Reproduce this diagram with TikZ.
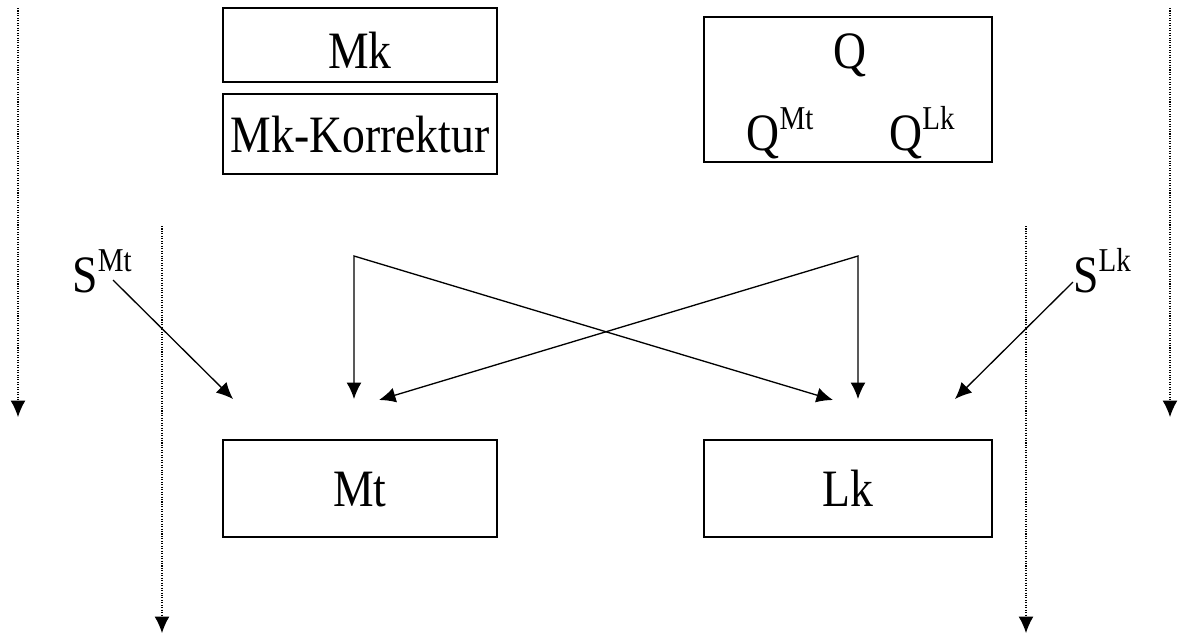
\documentclass[tikz,border=0pt]{standalone}
\usepackage{fontspec}
\setmainfont{Liberation Serif}
\usetikzlibrary{positioning, calc, arrows.meta}
\newcommand{\tall}[1]{\scalebox{1}[1.15]{#1}}
\newcommand{\hi}[1]{\raisebox{10pt}{\fontsize{16.5}{18}\selectfont #1}}
\tikzstyle{box}=[draw, line width=0.7pt, inner sep=0pt, font=\fontsize{26}{30}\selectfont, text height=0.92cm, text depth=0.2cm]
\tikzstyle{txt}=[inner sep=0pt, anchor=base, font=\fontsize{26}{30}\selectfont]
\tikzstyle{arrow}=[-{Latex[length=3.3mm, width=3mm]}, line width=0.75pt]
\tikzstyle{twoway}=[{Latex[length=3.3mm, width=3mm]}-{Latex[length=3.3mm, width=3mm]}, line width=0.75pt, line join=miter]
\tikzstyle{dotarrow}=[-{Latex[length=3.3mm, width=3mm]}, line width=0.7pt, dash pattern=on 0.6pt off 0.8pt]

\begin{document}
\begin{tikzpicture}[x=0.02cm, y=-0.02cm]
    \useasboundingbox (0,0) rectangle (1178,637);

    % boxes
    \node [box, minimum width=5.48cm, minimum height=1.48cm, text depth=0cm] (mk) at (360,45) {\tall{Mk}};
    \node [box, minimum width=5.48cm, minimum height=1.6cm] (mkk) at (360,134) {\tall{Mk-Korrektur}};
    \node [box, minimum width=5.76cm, minimum height=2.9cm] (q) at (848,89.5) {};
    \node [box, minimum width=5.48cm, minimum height=1.94cm] (mt) at (360,488.5) {\tall{Mt}};
    \node [box, minimum width=5.76cm, minimum height=1.94cm] (lk) at (848,488.5) {\tall{Lk}};

    \node [txt] (q-top) at (850,68) {\tall{Q}};
    \node [txt] (q-mt) at (780,150) {\tall{Q\hi{Mt}}};
    \node [txt] (q-lk) at (922,150) {\tall{Q\hi{Lk}}};

    \node [txt] (s-mt) at (102,292) {\tall{S\hi{Mt}}};
    \node [txt] (s-lk) at (1102,292) {\tall{S\hi{Lk}}};

    % dotted flows
    \foreach \n/\x/\a/\b in {outl/18/8/417, outr/1170/8/417, inl/162/226/633, inr/1026/226/633}
    {
    \coordinate (\n-a) at (\x,\a);
    \coordinate (\n-b) at (\x,\b);
    \draw [dotarrow] (\n-a) -- (\n-b);
    }

    \coordinate (mt-top) at (354,256);
    \coordinate (lk-top) at (858,256);
    \coordinate (mt-in-s) at (233,399);
    \coordinate (mt-in-m) at (354,399);
    \coordinate (mt-in-q) at (379,400);
    \coordinate (lk-in-q) at (833,400);
    \coordinate (lk-in-m) at (858,399);
    \coordinate (lk-in-s) at (955,399);
    \coordinate (s-mt-out) at (113,280);
    \coordinate (s-lk-out) at (1073,282);

    \draw [twoway] (mt-in-m) -- (mt-top) -- (lk-in-q);
    \draw [twoway] (lk-in-m) -- (lk-top) -- (mt-in-q);

    \draw [arrow] (s-mt-out) -- (mt-in-s);
    \draw [arrow] (s-lk-out) -- (lk-in-s);

  \end{tikzpicture}
\end{document}
